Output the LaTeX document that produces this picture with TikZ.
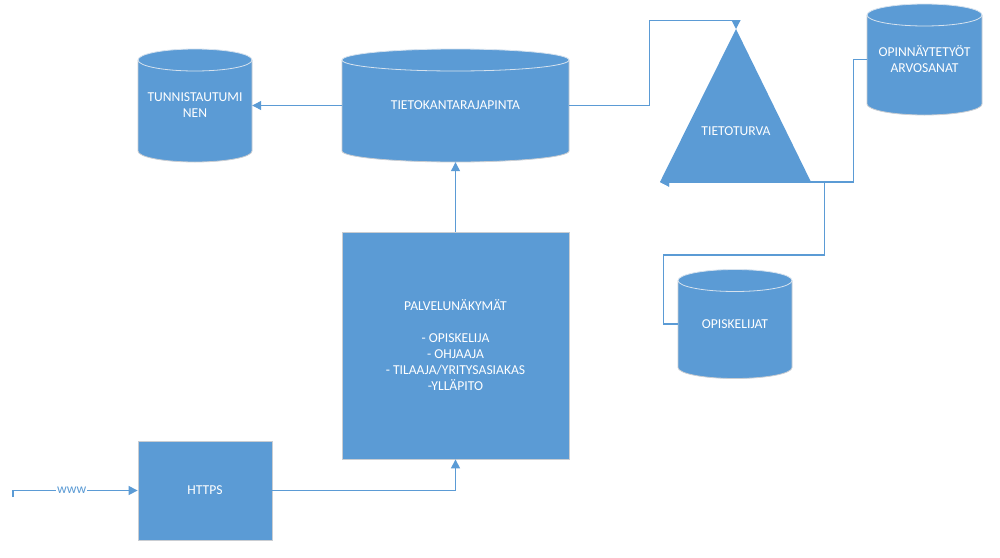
\documentclass[tikz,border=0pt]{standalone}
\usepackage{fontspec}
\setmainfont{Carlito}
\usetikzlibrary{arrows.meta}

\definecolor{boxblue}{HTML}{5B9BD5}
\definecolor{boxedge}{HTML}{C9CDD2}
\definecolor{topedge}{HTML}{D6E2EE}

\tikzset{
  boxtext/.style={text=white, align=center, font=\fontsize{13.6}{16}\selectfont, inner sep=0pt},
  blockbox/.style={boxtext, fill=boxblue, draw=boxedge, line width=0.8pt},
  dbbox/.style={boxtext},
  link/.style={draw=boxblue, line width=1.2pt},
  linkarrow/.style={link, -{Triangle[length=9pt,width=9pt]}}
}

% cylinder: centre x, centre y, width, height, text, name
\newcommand{\dbnode}[6]{%
  \fill[boxblue] ({#1-#3/2},{#2-#4/2+11}) -- ({#1-#3/2},{#2+#4/2-11})
    arc[start angle=180, end angle=0, x radius={#3/2}, y radius=11]
    -- ({#1+#3/2},{#2-#4/2+11})
    arc[start angle=0, end angle=-180, x radius={#3/2}, y radius=11] -- cycle;
  \draw[boxedge, line width=0.8pt] ({#1-#3/2},{#2-#4/2+11}) -- ({#1-#3/2},{#2+#4/2-11})
    arc[start angle=180, end angle=0, x radius={#3/2}, y radius=11]
    -- ({#1+#3/2},{#2-#4/2+11});
  \draw[topedge, line width=0.8pt] (#1,{#2-#4/2+11}) ellipse[x radius={#3/2}, y radius=11];
  \node[dbbox, minimum width=#3, minimum height=#4] (#6) at (#1,#2) {#5};
}

\begin{document}
\begin{tikzpicture}[x=1pt,y=-1pt]
\useasboundingbox[fill=white] (0,0) rectangle (1000,557);

% Place nodes
\dbnode{195}{105.5}{114}{113}{TUNNISTAUTUMI\\NEN}{tunnistus}
\dbnode{455.5}{105.5}{227}{113}{TIETOKANTARAJAPINTA}{tietokanta}
\dbnode{924.5}{59.5}{115}{111}{OPINNÄYTETYÖT\\ARVOSANAT}{opinnaytetyot}
\dbnode{735}{324}{114}{109}{OPISKELIJAT}{opiskelijat}

\node[blockbox, minimum width=227, minimum height=227] (palvelu) at (455.5,345.5)
  {PALVELUNÄKYMÄT\\[16pt]- OPISKELIJA\\- OHJAAJA\\- TILAAJA/YRITYSASIAKAS\\-YLLÄPITO};
\node[blockbox, minimum width=134, minimum height=99] (https) at (205,490.5) {HTTPS};

% triangle
\coordinate (apex) at (736,29);
\coordinate (baseleft) at (660,182);
\coordinate (baseright) at (811,182);
\fill[boxblue] (apex) -- (baseright) -- (baseleft) -- cycle;
\node[boxtext] (tietoturva) at (736,131) {TIETOTURVA};

% connectors
\coordinate (wwwstart) at (13,497);
\draw[linkarrow] (wwwstart) |- (https.west)
  node[pos=0.736, fill=white, inner sep=1pt, text=boxblue, font=\fontsize{13.6}{13.6}\selectfont] {www};
\draw[linkarrow] (https.east) -| (palvelu.south);
\draw[linkarrow] (palvelu.north) -- (tietokanta.south);
\draw[linkarrow] (tietokanta.west) -- (tunnistus.east);
\draw[linkarrow] (tietokanta.east) -- ++(80,0) -- ++(0,-85) -| (apex);
\draw[linkarrow] (opinnaytetyot.west) -- ++(-13,0) |- (baseleft);
\draw[linkarrow] (opiskelijat.west) -- ++(-14,0) -- ++(0,-69) -- ++(161,0) |- (baseleft);

\end{tikzpicture}
\end{document}
